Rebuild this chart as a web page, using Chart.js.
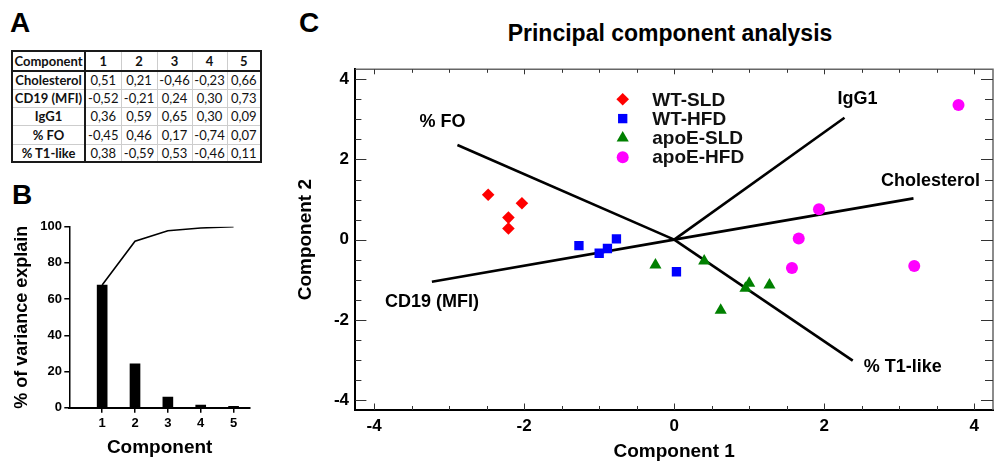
<!DOCTYPE html>
<html>
<head>
<meta charset="utf-8">
<script src="https://cdn.jsdelivr.net/npm/chart.js@4.4.1/dist/chart.umd.min.js"></script>
<style>
html,body{margin:0;padding:0;background:#fff;}
body{width:1000px;height:464px;overflow:hidden;position:relative;font-family:"Liberation Sans",Arial,sans-serif;color:#000;}
.panel{position:absolute;font-weight:bold;font-size:28px;line-height:28px;}
#titleC{position:absolute;left:470px;top:19px;width:400px;text-align:center;font-weight:bold;font-size:23px;line-height:28px;white-space:nowrap;}
#tbl{position:absolute;left:11px;top:50px;border-collapse:collapse;table-layout:fixed;width:249px;border:2px solid #1a1a1a;font-family:Lato,"Open Sans",sans-serif;font-size:13px;color:#111;}
#tbl td{border:1px solid #cdcdcd;padding:0;text-align:center;white-space:nowrap;line-height:15px;overflow:hidden;}
#tbl tr{height:18.3px;}
#tbl tr.hd{height:20px;}
#tbl tr.hd td{font-weight:bold;border-bottom:2px solid #1a1a1a;}
#tbl td.rn{font-weight:bold;border-right:2px solid #1a1a1a;}
.cv{position:absolute;}
</style>
</head>
<body>
<div class="panel" style="left:10px;top:9px">A</div>
<div class="panel" style="left:12px;top:181px">B</div>
<div class="panel" style="left:299px;top:9px">C</div>
<div id="titleC">Principal component analysis</div>
<table id="tbl"></table>
<div class="cv" style="left:0;top:205px;width:262px;height:259px"><canvas id="cB" width="262" height="259"></canvas></div>
<div class="cv" style="left:290px;top:0;width:710px;height:464px"><canvas id="cC" width="710" height="464"></canvas></div>
<script>
// ---------- Data ----------
// Panel A: loadings table
const tableComponents = ['1', '2', '3', '4', '5'];
const variables = ['Cholesterol', 'CD19 (MFI)', 'IgG1', '% FO', '% T1-like'];
const cholesterolLoadings = [0.51, 0.21, -0.46, -0.23, 0.66];
const cd19Loadings = [-0.52, -0.21, 0.24, 0.30, 0.73];
const igg1Loadings = [0.36, 0.59, 0.65, 0.30, 0.09];
const foLoadings = [-0.45, 0.46, 0.17, -0.74, 0.07];
const t1Loadings = [0.38, -0.59, 0.53, -0.46, 0.11];

// Panel B: scree plot
const components = [1, 2, 3, 4, 5];
const varianceExplained = [67.8, 24.2, 5.8, 1.5, 0.7];
const cumulativeVariance = [67.8, 92.0, 97.8, 99.3, 100];
const varianceTicks = [0, 20, 40, 60, 80, 100];

// Panel C: scores (Component 1, Component 2)
const groupNames = ['WT-SLD', 'WT-HFD', 'apoE-SLD', 'apoE-HFD'];
const wtSLD_pc1 = [-2.48, -2.03, -2.21, -2.21];
const wtSLD_pc2 = [1.12, 0.91, 0.55, 0.28];
const wtHFD_pc1 = [-1.27, -1.00, -0.89, -0.77, 0.03];
const wtHFD_pc2 = [-0.15, -0.34, -0.22, 0.02, -0.80];
const apoeSLD_pc1 = [-0.25, 0.40, 1.00, 0.95, 1.27, 0.62];
const apoeSLD_pc2 = [-0.63, -0.53, -1.09, -1.21, -1.13, -1.76];
const apoeHFD_pc1 = [3.79, 1.93, 1.66, 1.57, 3.20];
const apoeHFD_pc2 = [3.36, 0.76, 0.03, -0.71, -0.66];
// Panel C: loading vectors (end points)
const loadingPC1 = [3.19, -3.23, 2.27, -2.89, 2.38];
const loadingPC2 = [1.03, -1.05, 3.04, 2.36, -3.02];
const axisTicksC = [-4, -2, 0, 2, 4];

// ---------- Styles ----------
const FONT = '"Liberation Sans", Arial, sans-serif';
Chart.defaults.font.family = FONT;
Chart.defaults.color = '#000';
const labelOffsets = { 'Cholesterol': [17, -17], 'CD19 (MFI)': [0, 20], 'IgG1': [13, -19], '% FO': [-15, -23], '% T1-like': [50, 6] };
const groupStyles = [
  { color: '#ff0000', pointStyle: 'rectRot', radius: 6.3 },
  { color: '#0000ff', pointStyle: 'rect', radius: 6.6 },
  { color: '#008000', pointStyle: 'triangle', radius: 7 },
  { color: '#ff00ff', pointStyle: 'circle', radius: 6 }
];

// ---------- Panel A table ----------
(function buildTable() {
  const rows = [cholesterolLoadings, cd19Loadings, igg1Loadings, foLoadings, t1Loadings];
  const widths = [73, 36, 36, 35, 35, 34];
  const fmt = v => v.toFixed(2).replace('.', ',');
  let html = '<colgroup>' + widths.map(w => `<col style="width:${w}px">`).join('') + '</colgroup>';
  html += '<tr class="hd"><td class="rn">Component</td>' + tableComponents.map(c => `<td>${c}</td>`).join('') + '</tr>';
  rows.forEach((r, i) => {
    html += `<tr><td class="rn">${variables[i]}</td>` + r.map(v => `<td>${fmt(v)}</td>`).join('') + '</tr>';
  });
  document.getElementById('tbl').innerHTML = html;
})();

// ---------- Panel B ----------
new Chart(document.getElementById('cB'), {
  type: 'bar',
  data: {
    datasets: [
      {
        type: 'line',
        data: components.map((c, i) => ({ x: c, y: cumulativeVariance[i] })),
        borderColor: '#000', borderWidth: 1.6, pointRadius: 0, tension: 0, order: 0
      },
      {
        type: 'bar',
        data: components.map((c, i) => ({ x: c, y: varianceExplained[i] })),
        backgroundColor: '#000', borderWidth: 0, barThickness: 10, order: 1
      }
    ]
  },
  options: {
    responsive: false, animation: false,
    layout: { padding: { top: 21.7, right: 12, left: 0, bottom: 0 } },
    plugins: { legend: { display: false }, tooltip: { enabled: false } },
    scales: {
      x: {
        type: 'linear', min: 0, max: 5.5, offset: false,
        afterBuildTicks: s => { s.ticks = components.map(v => ({ value: v })); },
        afterFit: s => { s.height = 56.3; },
        ticks: { font: { size: 13, weight: 'bold' }, color: '#000', padding: 2.5, autoSkip: false, maxRotation: 0 },
        grid: { display: true, drawOnChartArea: false, drawTicks: true, tickLength: 5, color: '#000', lineWidth: 1.5, offset: false },
        border: { display: true, color: '#000', width: 2 },
        title: { display: true, text: 'Component', font: { size: 19, weight: 'bold' }, color: '#000', padding: { top: 0, bottom: 4.6 } }
      },
      y: {
        min: 0, max: 100,
        afterBuildTicks: s => { s.ticks = varianceTicks.map(v => ({ value: v })); },
        afterFit: s => { s.width = 69.3; },
        ticks: { font: { size: 13, weight: 'bold' }, color: '#000', padding: 2.3 },
        grid: { display: true, drawOnChartArea: false, drawTicks: true, tickLength: 5, color: '#000', lineWidth: 1.5 },
        border: { display: true, color: '#000', width: 1.5 },
        title: { display: true, text: '% of variance explain', font: { size: 18, weight: 'bold' }, color: '#000', padding: { top: 11.2, bottom: 0 } }
      }
    }
  }
});

// ---------- Panel C plugins ----------
const innerTicks = {
  id: 'innerTicks',
  afterDraw(chart) {
    const { ctx, chartArea: a, scales: { x, y } } = chart;
    ctx.save();
    ctx.strokeStyle = '#666'; ctx.lineWidth = 1.5;
    ctx.beginPath();
    ctx.moveTo(a.left, a.top); ctx.lineTo(a.right, a.top); ctx.lineTo(a.right, a.bottom);
    ctx.stroke();
    ctx.strokeStyle = '#333'; ctx.lineWidth = 1;
    ctx.beginPath();
    const isMajor = v => Math.abs(v / 2 - Math.round(v / 2)) < 1e-9;
    x.ticks.forEach(t => {
      const px = Math.round(x.getPixelForValue(t.value)) + 0.5;
      const m = isMajor(t.value);
      ctx.moveTo(px, a.bottom); ctx.lineTo(px, a.bottom - (m ? 6.5 : 4));
      ctx.moveTo(px, a.top); ctx.lineTo(px, a.top + (m ? 5 : 3.5));
    });
    y.ticks.forEach(t => {
      const py = Math.round(y.getPixelForValue(t.value)) + 0.5;
      const m = isMajor(t.value);
      ctx.moveTo(a.left, py); ctx.lineTo(a.left + (m ? 11 : 6), py);
      ctx.moveTo(a.right, py); ctx.lineTo(a.right - (m ? 12 : 8), py);
    });
    ctx.stroke();
    ctx.restore();
  }
};

const loadingLabels = {
  id: 'loadingLabels',
  afterDatasetsDraw(chart) {
    const { ctx, scales: { x, y } } = chart;
    ctx.save();
    ctx.font = 'bold 18px ' + FONT;
    ctx.fillStyle = '#000'; ctx.textAlign = 'center'; ctx.textBaseline = 'middle';
    variables.forEach((v, i) => {
      const off = labelOffsets[v];
      ctx.fillText(v, x.getPixelForValue(loadingPC1[i]) + off[0], y.getPixelForValue(loadingPC2[i]) + off[1]);
    });
    ctx.restore();
  }
};

const insideLegend = {
  id: 'insideLegend',
  afterDraw(chart) {
    const { ctx, chartArea: a } = chart;
    const items = chart.data.datasets.filter(d => d.inLegend);
    ctx.save();
    items.forEach((d, i) => {
      const cx = a.left + 267.3;
      const cy = a.top + 30 + i * 19.3;
      ctx.fillStyle = d.backgroundColor; ctx.strokeStyle = d.borderColor;
      Chart.helpers.drawPoint(ctx, { pointStyle: d.pointStyle, radius: d.pointRadius, rotation: 0, borderWidth: 0 }, cx, cy);
      ctx.fillStyle = '#111';
      ctx.font = 'bold 19px ' + FONT;
      ctx.textAlign = 'left'; ctx.textBaseline = 'middle';
      ctx.fillText(d.label, a.left + 296.9, cy + 1);
    });
    ctx.restore();
  }
};

// ---------- Panel C chart ----------
const scoreSets = [
  [wtSLD_pc1, wtSLD_pc2], [wtHFD_pc1, wtHFD_pc2], [apoeSLD_pc1, apoeSLD_pc2], [apoeHFD_pc1, apoeHFD_pc2]
];
const scoreDatasets = scoreSets.map(([xs, ys], g) => ({
  label: groupNames[g], inLegend: true,
  data: xs.map((v, i) => ({ x: v, y: ys[i] })),
  pointStyle: groupStyles[g].pointStyle, pointRadius: groupStyles[g].radius,
  backgroundColor: groupStyles[g].color, borderColor: groupStyles[g].color, borderWidth: 0,
  showLine: false, order: 0
}));
const loadingDatasets = variables.map((v, i) => ({
  label: v, inLegend: false,
  data: [{ x: 0, y: 0 }, { x: loadingPC1[i], y: loadingPC2[i] }],
  showLine: true, borderColor: '#000', borderWidth: 2.6, pointRadius: 0, order: 1
}));

const scaleC = (title, pad) => ({
  type: 'linear', min: -4.25, max: 4.25,
  afterBuildTicks: s => {
    const t = [];
    for (let k = -8; k <= 8; k++) t.push({ value: k / 2 });
    s.ticks = t;
  },
  ticks: {
    autoSkip: false, maxRotation: 0, padding: pad,
    font: { size: 17, weight: 'bold' }, color: '#000',
    callback: v => (axisTicksC.includes(v) ? String(v) : '')
  },
  grid: { display: false, drawTicks: false },
  border: { display: true, color: '#000', width: 2 },
  title: title
});

new Chart(document.getElementById('cC'), {
  type: 'scatter',
  data: { datasets: [...scoreDatasets, ...loadingDatasets] },
  options: {
    responsive: false, animation: false,
    layout: { padding: { top: 69.3, right: 1.8, left: 0, bottom: 0 } },
    plugins: { legend: { display: false }, tooltip: { enabled: false }, title: { display: false } },
    scales: {
      x: Object.assign(scaleC({ display: true, text: 'Component 1', font: { size: 19, weight: 'bold' }, color: '#000', padding: { top: 0, bottom: 0.6 } }, 6.5),
        { afterFit: s => { s.height = 54; } }),
      y: Object.assign(scaleC({ display: true, text: 'Component 2', font: { size: 19, weight: 'bold' }, color: '#000', padding: { top: 4.1, bottom: 0 } }, 6.4),
        { afterFit: s => { s.width = 65.4; } })
    }
  },
  plugins: [loadingLabels, innerTicks, insideLegend]
});
</script>
</body>
</html>
